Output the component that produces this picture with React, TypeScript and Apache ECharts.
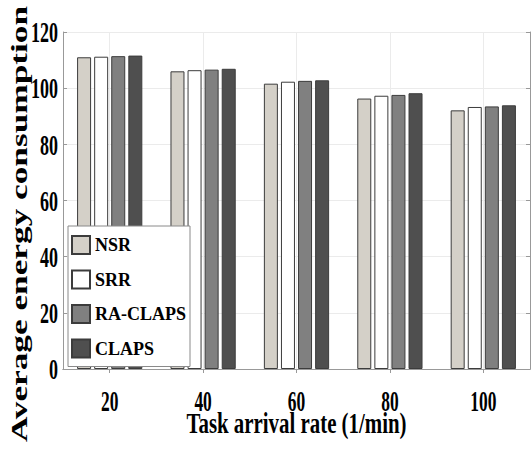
import React, { useEffect, useRef } from "react";
import * as echarts from "echarts";

const categories = ["20", "40", "60", "80", "100"];
const gridXCategories = ["10", "20", "30", "40", "50", "60", "70", "80", "90", "100", "110"];
const seriesNames = ["NSR", "SRR", "RA-CLAPS", "CLAPS"];
const nsr = [111.0, 106.0, 101.6, 96.3, 92.1];
const srr = [111.2, 106.4, 102.3, 97.3, 93.3];
const raClaps = [111.4, 106.6, 102.6, 97.6, 93.5];
const claps = [111.6, 106.9, 102.8, 98.2, 93.9];
const yTicks = [0, 20, 40, 60, 80, 100, 120];
const seriesColors = ["#d4d0c8", "#ffffff", "#808080", "#4f4f4f"];
const yMin = 0;
const yMax = 120;
const yInterval = 20;
const xTitle = "Task arrival rate (1/min)";
const yTitle = "Average energy consumption";

const FONT = "Liberation Serif";

export default function App() {
  const ref = useRef<HTMLDivElement>(null);
  useEffect(() => {
    if (!ref.current) return;
    const chart = echarts.init(ref.current, undefined, { renderer: "svg" });
    const values = [nsr, srr, raClaps, claps];
    const option: any = {
      animation: false,
      backgroundColor: "#ffffff",
      grid: { left: 63, right: 1, top: 32, bottom: 84, containLabel: false },
      legend: {
        orient: "vertical",
        left: 68,
        top: 226,
        data: seriesNames,
        icon: "rect",
        itemWidth: 18,
        itemHeight: 18,
        itemGap: 14.5,
        padding: [9, 4, 8, 3],
        backgroundColor: "#ffffff",
        borderColor: "#8a8a8a",
        borderWidth: 1,
        borderRadius: 0,
        textStyle: { fontFamily: FONT, fontWeight: "bold", fontSize: 18, color: "#000" },
      },
      xAxis: [
        {
          type: "category",
          data: categories,
          position: "bottom",
          boundaryGap: true,
          axisLine: { show: true, lineStyle: { color: "#999", width: 1 } },
          axisTick: { show: false },
          splitLine: { show: false },
          axisLabel: { show: false },
        },
        {
          type: "category",
          data: gridXCategories,
          position: "top",
          boundaryGap: false,
          axisLine: { show: true, lineStyle: { color: "#999", width: 1 } },
          axisTick: {
            show: true,
            inside: true,
            length: 4,
            interval: (i: number) => i % 2 === 1,
            lineStyle: { color: "#999" },
          },
          axisLabel: { show: false },
          splitLine: {
            show: true,
            interval: (i: number) => i % 2 === 1,
            lineStyle: { color: "#ebebeb", width: 1 },
          },
        },
      ],
      yAxis: [
        {
          type: "value",
          min: yMin,
          max: yMax,
          interval: yInterval,
          position: "left",
          axisLine: { show: true, lineStyle: { color: "#999", width: 1 } },
          axisTick: { show: true, inside: true, length: 4, lineStyle: { color: "#999" } },
          splitLine: { show: true, lineStyle: { color: "#ebebeb", width: 1 } },
          axisLabel: { show: false },
        },
        {
          type: "value",
          min: yMin,
          max: yMax,
          interval: yInterval,
          position: "right",
          axisLine: { show: true, lineStyle: { color: "#999", width: 1 } },
          axisTick: { show: true, inside: true, length: 4, lineStyle: { color: "#999" } },
          splitLine: { show: false },
          axisLabel: { show: false },
        },
      ],
      series: seriesNames.map((name, i) => ({
        name,
        type: "bar",
        xAxisIndex: 0,
        yAxisIndex: 0,
        data: values[i],
        barWidth: 14,
        barGap: "22%",
        itemStyle: {
          color: seriesColors[i],
          borderColor: "#3c3c3c",
          borderWidth: 1,
        },
      })),
    };
    chart.setOption(option);

    const textStyle = (text: string, size: number, align: string) => ({
      text,
      fontFamily: FONT,
      fontWeight: "bold",
      fontSize: size,
      fill: "#000",
      align,
      verticalAlign: "middle",
    });

    const yLabels = yTicks.map((v) => ({
      type: "text",
      x: 58,
      y: chart.convertToPixel({ yAxisIndex: 0 }, v) as number,
      scaleX: 0.6,
      style: textStyle(String(v), 30, "right"),
      z: 10,
    }));
    const xLabels = categories.map((c) => ({
      type: "text",
      x: chart.convertToPixel({ xAxisIndex: 0 }, c) as number,
      y: 400.5,
      scaleX: 0.58,
      style: textStyle(c, 30, "center"),
      z: 10,
    }));
    const gridRect = { left: 63, right: 530 };
    const titles = [
      {
        type: "text",
        x: (gridRect.left + gridRect.right) / 2,
        y: 423,
        scaleX: 0.72,
        style: textStyle(xTitle, 29, "center"),
        z: 10,
      },
      {
        type: "text",
        x: 19,
        y: 224,
        rotation: Math.PI / 2,
        scaleX: 1.47,
        style: textStyle(yTitle, 24, "center"),
        z: 10,
      },
    ];
    chart.setOption({ graphic: [...yLabels, ...xLabels, ...titles] });
    return () => chart.dispose();
  }, []);
  return (
    <div
      ref={ref}
      style={{ position: "fixed", left: 0, top: 0, width: 531, height: 453 }}
    />
  );
}
